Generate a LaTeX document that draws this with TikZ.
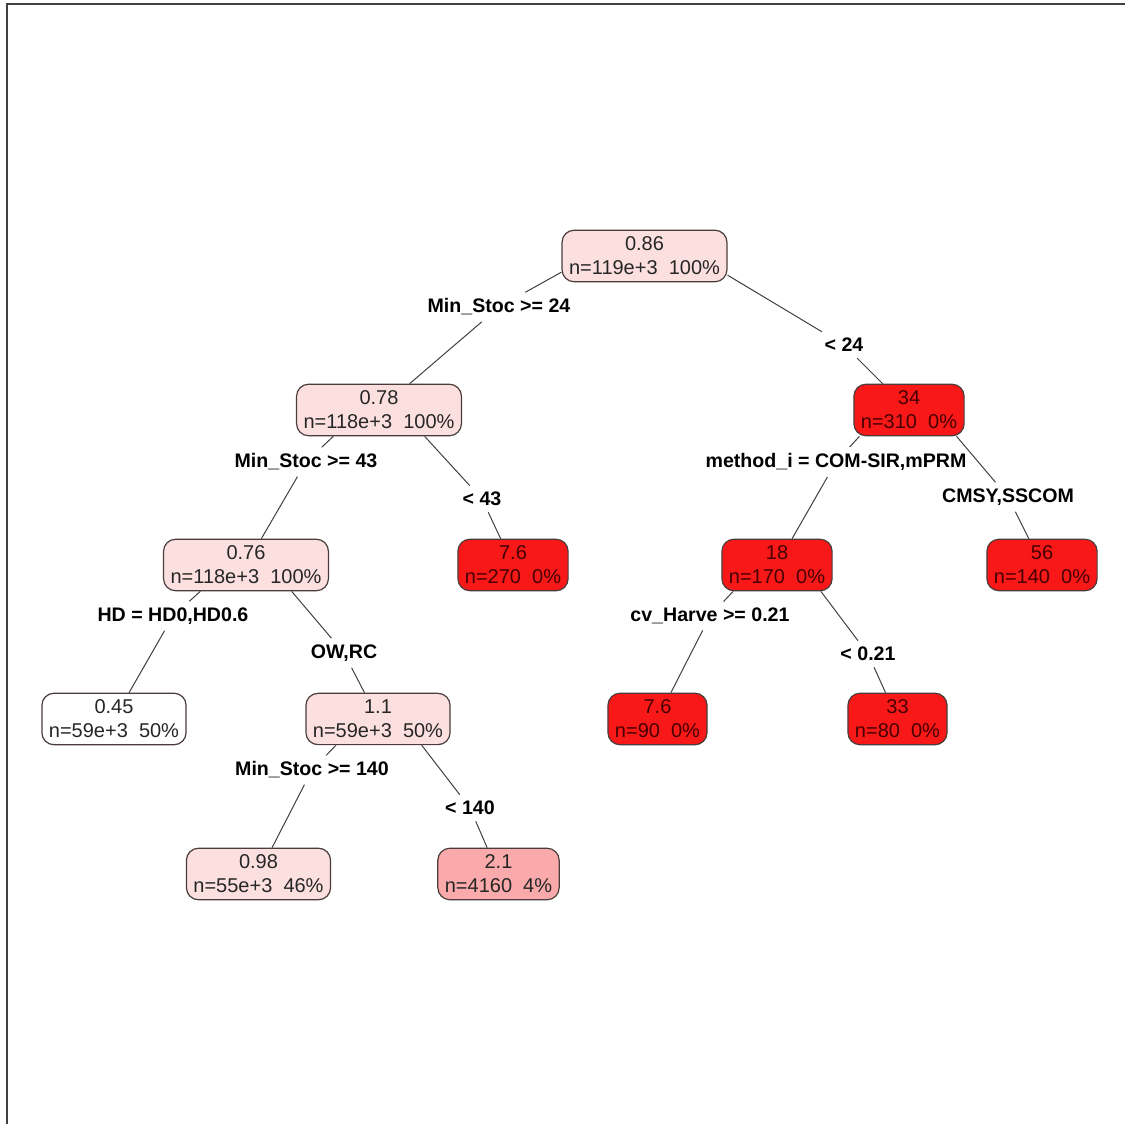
\documentclass[tikz,border=0pt]{standalone}
\usepackage{fontspec}
\setmainfont{Liberation Sans}
\usepackage{xcolor}
\definecolor{palepink}{RGB}{252,224,224}
\definecolor{midpink}{RGB}{250,170,170}
\definecolor{leafred}{RGB}{248,24,24}
\definecolor{redtext}{RGB}{70,0,0}
\definecolor{boxline}{RGB}{75,60,60}

\begin{document}
\begin{tikzpicture}[x=0.5pt,y=0.5pt,
  box/.style={draw=boxline, line width=0.6pt, rounded corners=6pt, align=center,
    inner xsep=3.5pt, minimum height=25.5pt, text=black!85,
    font=\fontsize{10}{12}\selectfont},
  pale/.style={box, fill=palepink},
  hot/.style={box, fill=leafred, text=redtext},
  split/.style={font=\fontsize{9.8}{12}\selectfont\bfseries, inner sep=3pt},
  branch/.style={black!75, line width=0.5pt}]

\useasboundingbox (0,0) rectangle (1125,1124);
\draw[black!75, line width=1pt] (7,0) -- (7,1120) -- (1125,1120);

% nodes of the tree
\node[pale] (root) at (644.5,868) {0.86\\n=119e+3\ \ 100\%};
\node[pale] (n2) at (379,714) {0.78\\n=118e+3\ \ 100\%};
\node[hot] (n3) at (909,714) {34\\n=310\ \ 0\%};
\node[pale] (n4) at (246,559) {0.76\\n=118e+3\ \ 100\%};
\node[hot] (n5) at (513,559) {7.6\\n=270\ \ 0\%};
\node[hot] (n6) at (777,559) {18\\n=170\ \ 0\%};
\node[hot] (n7) at (1042,559) {56\\n=140\ \ 0\%};
\node[box, fill=white] (n8) at (114,405) {0.45\\n=59e+3\ \ 50\%};
\node[pale] (n9) at (378,405) {1.1\\n=59e+3\ \ 50\%};
\node[hot] (n10) at (657.5,405) {7.6\\n=90\ \ 0\%};
\node[hot] (n11) at (897.5,405) {33\\n=80\ \ 0\%};
\node[pale] (n12) at (258.5,250) {0.98\\n=55e+3\ \ 46\%};
\node[box, fill=midpink] (n13) at (498.5,250) {2.1\\n=4160\ \ 4\%};

% split labels
\node[split] (l1) at (499,817) {Min\_Stoc >= 24};
\node[split] (r1) at (844,779) {< 24};
\node[split] (l2) at (306,662) {Min\_Stoc >= 43};
\node[split] (r2) at (482,625) {< 43};
\node[split] (l3) at (836,662) {method\_i = COM-SIR,mPRM};
\node[split] (r3) at (1008,627) {CMSY,SSCOM};
\node[split] (l4) at (173,508) {HD = HD0,HD0.6};
\node[split] (r4) at (344,471) {OW,RC};
\node[split] (l6) at (710,508) {cv\_Harve >= 0.21};
\node[split] (r6) at (868,470) {< 0.21};
\node[split] (l9) at (312,354) {Min\_Stoc >= 140};
\node[split] (r9) at (470,316) {< 140};

\draw[branch] (root.191) -- (l1) (l1) -- (n2);
\draw[branch] (root.347) -- (r1) (r1) -- (n3);
\draw[branch] (n2.210) -- (l2) (l2) -- (n4);
\draw[branch] (n2.330) -- (r2) (r2) -- (n5);
\draw[branch] (n3.208) -- (l3) (l3) -- (n6);
\draw[branch] (n3.331) -- (r3) (r3) -- (n7);
\draw[branch] (n4.210) -- (l4) (l4) -- (n8);
\draw[branch] (n4.330) -- (r4) (r4) -- (n9);
\draw[branch] (n6.211) -- (l6) (l6) -- (n10);
\draw[branch] (n6.329) -- (r6) (r6) -- (n11);
\draw[branch] (n9.212) -- (l9) (l9) -- (n12);
\draw[branch] (n9.329) -- (r9) (r9) -- (n13);

\end{tikzpicture}
\end{document}
